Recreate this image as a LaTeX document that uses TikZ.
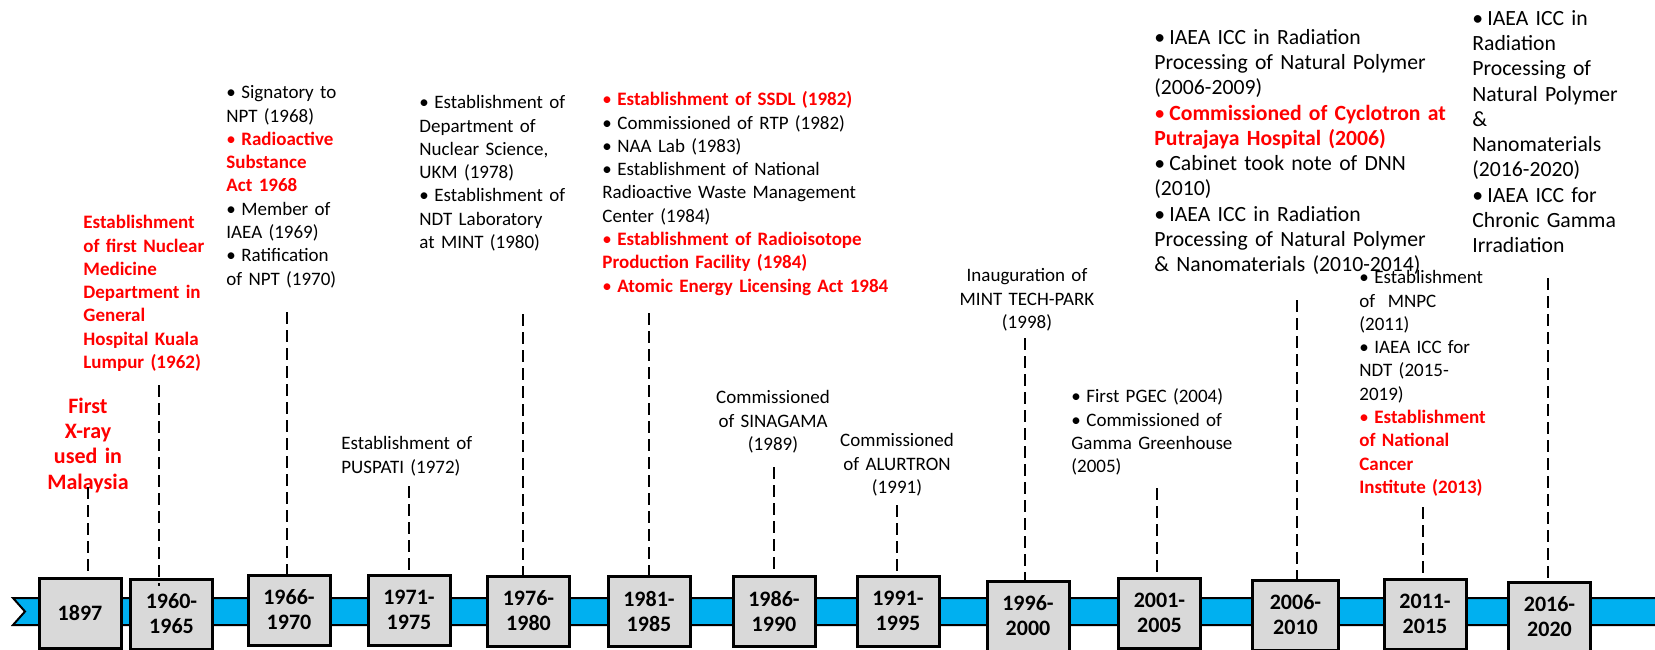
\documentclass[tikz,border=0pt]{standalone}
\usepackage{fontspec}
\setmainfont{Carlito}
\usetikzlibrary{calc}

\definecolor{band}{HTML}{00B0F0}
\definecolor{boxgray}{HTML}{D9D9D9}
\definecolor{hot}{HTML}{FF0000}

% bullet items with hanging indent
\newcommand{\bitem}[1]{\hangindent=7.5pt\hangafter=1\noindent\makebox[7.5pt][l]{\textbullet}\strut#1\par}
\newcommand{\ritem}[1]{\hangindent=7.5pt\hangafter=1\noindent\makebox[7.5pt][l]{\color{hot}\textbullet}\strut{\color{hot}\bfseries#1}\par}

\begin{document}
\begin{tikzpicture}[
    x=0.5pt, y=-0.5pt,
    yearbox/.style={
      draw,
      line width=1.5pt,
      fill=boxgray,
      minimum width=41pt,
      minimum height=35pt,
      inner sep=0,
      align=center,
      font=\fontsize{11}{12.5}\selectfont\bfseries
    },
    note/.style={
      inner sep=0,
      anchor=north west,
      text width=220pt,
      align=left,
      font=\fontsize{9.5}{11.65}\selectfont
    },
    bignote/.style={note, font=\fontsize{10.85}{12.65}\selectfont},
    title/.style={
      inner sep=0,
      anchor=north,
      text width=120pt,
      align=center,
      font=\fontsize{9.5}{11.65}\selectfont
    },
    stem/.style={dash pattern=on 6pt off 3pt, line width=1pt}
  ]

  \useasboundingbox (0,0) rectangle (1655,649);

  % the ribbon
  \draw [line width=1pt, fill=band] (13,598) -- (1665,598) -- (1665,625) -- (13,625) -- (25,611.5) -- cycle;

  % year boxes
  \node [yearbox] (y1897) at (80,613) {1897};
  \node [yearbox] (y1960) at (171.5,614) {1960-\\1965};
  \node [yearbox] (y1966) at (289,610) {1966-\\1970};
  \node [yearbox] (y1971) at (409,610) {1971-\\1975};
  \node [yearbox] (y1976) at (528.5,611) {1976-\\1980};
  \node [yearbox] (y1981) at (649,611) {1981-\\1985};
  \node [yearbox] (y1986) at (774,611) {1986-\\1990};
  \node [yearbox] (y1991) at (898,611) {1991-\\1995};
  \node [yearbox] (y1996) at (1028,616) {1996-\\2000};
  \node [yearbox] (y2001) at (1159.5,613) {2001-\\2005};
  \node [yearbox] (y2006) at (1295.5,615) [minimum width=43pt] {2006-\\2010};
  \node [yearbox] (y2011) at (1425,614) {2011-\\2015};
  \node [yearbox] (y2016) at (1549.5,617) {2016-\\2020};

  % events
  \node [title, text width=60pt, text=hot, font=\fontsize{11}{12.65}\selectfont\bfseries] (xray) at (88,395)
    {\strut First\\X-ray\\used in\\Malaysia};

  \node [note, text=hot, font=\fontsize{9.5}{11.65}\selectfont\bfseries] (nucmed) at (83,212)
    {\strut Establishment\\of first Nuclear\\Medicine\\Department in\\General\\Hospital Kuala\\Lumpur (1962)};

  \node [note] (e1966) at (226,82)
    {\bitem{Signatory to\\NPT (1968)}
     \ritem{Radioactive\\Substance\\Act 1968}
     \bitem{Member of\\IAEA (1969)}
     \bitem{Ratification\\of NPT (1970)}};

  \node [note] (e1971) at (341,433)
    {\strut Establishment of\\PUSPATI (1972)};

  \node [note] (e1976) at (419,92)
    {\bitem{Establishment of\\Department of\\Nuclear Science,\\UKM (1978)}
     \bitem{Establishment of\\NDT Laboratory\\at MINT (1980)}};

  \node [note] (e1981) at (602,89)
    {\ritem{Establishment of SSDL (1982)}
     \bitem{Commissioned of RTP (1982)}
     \bitem{NAA Lab (1983)}
     \bitem{Establishment of National\\Radioactive Waste Management\\Center (1984)}
     \ritem{Establishment of Radioisotope\\Production Facility (1984)}
     \ritem{Atomic Energy Licensing Act 1984}};

  \node [title] (e1986) at (773,387)
    {\strut Commissioned\\of SINAGAMA\\(1989)};

  \node [title] (e1991) at (897,430)
    {\strut Commissioned\\of ALURTRON\\(1991)};

  \node [title] (e1996) at (1027,265)
    {\strut Inauguration of\\MINT TECH-PARK\\(1998)};

  \node [note] (e2001) at (1071,386)
    {\bitem{First PGEC (2004)}
     \bitem{Commissioned of\\Gamma Greenhouse\\(2005)}};

  \node [bignote] (e2006) at (1154,26)
    {\bitem{IAEA ICC in Radiation\\Processing of Natural Polymer\\(2006-2009)}
     \ritem{Commissioned of Cyclotron at\\Putrajaya Hospital (2006)}
     \bitem{Cabinet took note of DNN\\(2010)}
     \bitem{IAEA ICC in Radiation\\Processing of Natural Polymer\\\& Nanomaterials (2010-2014)}};

  \node [note] (e2011) at (1359,267)
    {\bitem{Establishment\\of\ \ MNPC\\(2011)}
     \bitem{IAEA ICC for\\NDT (2015-\\2019)}
     \ritem{Establishment\\of National\\Cancer\\Institute (2013)}};

  \node [bignote] (e2016) at (1472,7)
    {\bitem{IAEA ICC in\\Radiation\\Processing of\\Natural Polymer\\\&\\Nanomaterials\\(2016-2020)}
     \bitem{IAEA ICC for\\Chronic Gamma\\Irradiation}};

  % dashed stems
  \coordinate (s1897) at (88,487);
  \coordinate (s1960) at (159,385);
  \coordinate (s1966) at (287,312);
  \coordinate (s1971) at (409,486);
  \coordinate (s1976) at (523,314);
  \coordinate (s1981) at (649,313);
  \coordinate (s1986) at (774,467);
  \coordinate (s1991) at (897,505);
  \coordinate (s1996) at (1025,338);
  \coordinate (s2001) at (1157,488);
  \coordinate (s2006) at (1297,300);
  \coordinate (s2011) at (1423,507);
  \coordinate (s2016) at (1548,278);

  \draw [stem] (s1897) -- (s1897 |- y1897.north);
  \draw [stem] (s1960) -- ($(s1960 |- y1960.north)+(0,8)$);
  \draw [stem] (s1966) -- (s1966 |- y1966.north);
  \draw [stem] (s1971) -- (s1971 |- y1971.north);
  \draw [stem] (s1976) -- (s1976 |- y1976.north);
  \draw [stem] (s1981) -- (s1981 |- y1981.north);
  \draw [stem] (s1986) -- (s1986 |- y1986.north);
  \draw [stem] (s1991) -- (s1991 |- y1991.north);
  \draw [stem] (s1996) -- (s1996 |- y1996.north);
  \draw [stem] (s2001) -- (s2001 |- y2001.north);
  \draw [stem] (s2006) -- (s2006 |- y2006.north);
  \draw [stem] (s2011) -- (s2011 |- y2011.north);
  \draw [stem] (s2016) -- (s2016 |- y2016.north);

\end{tikzpicture}
\end{document}
